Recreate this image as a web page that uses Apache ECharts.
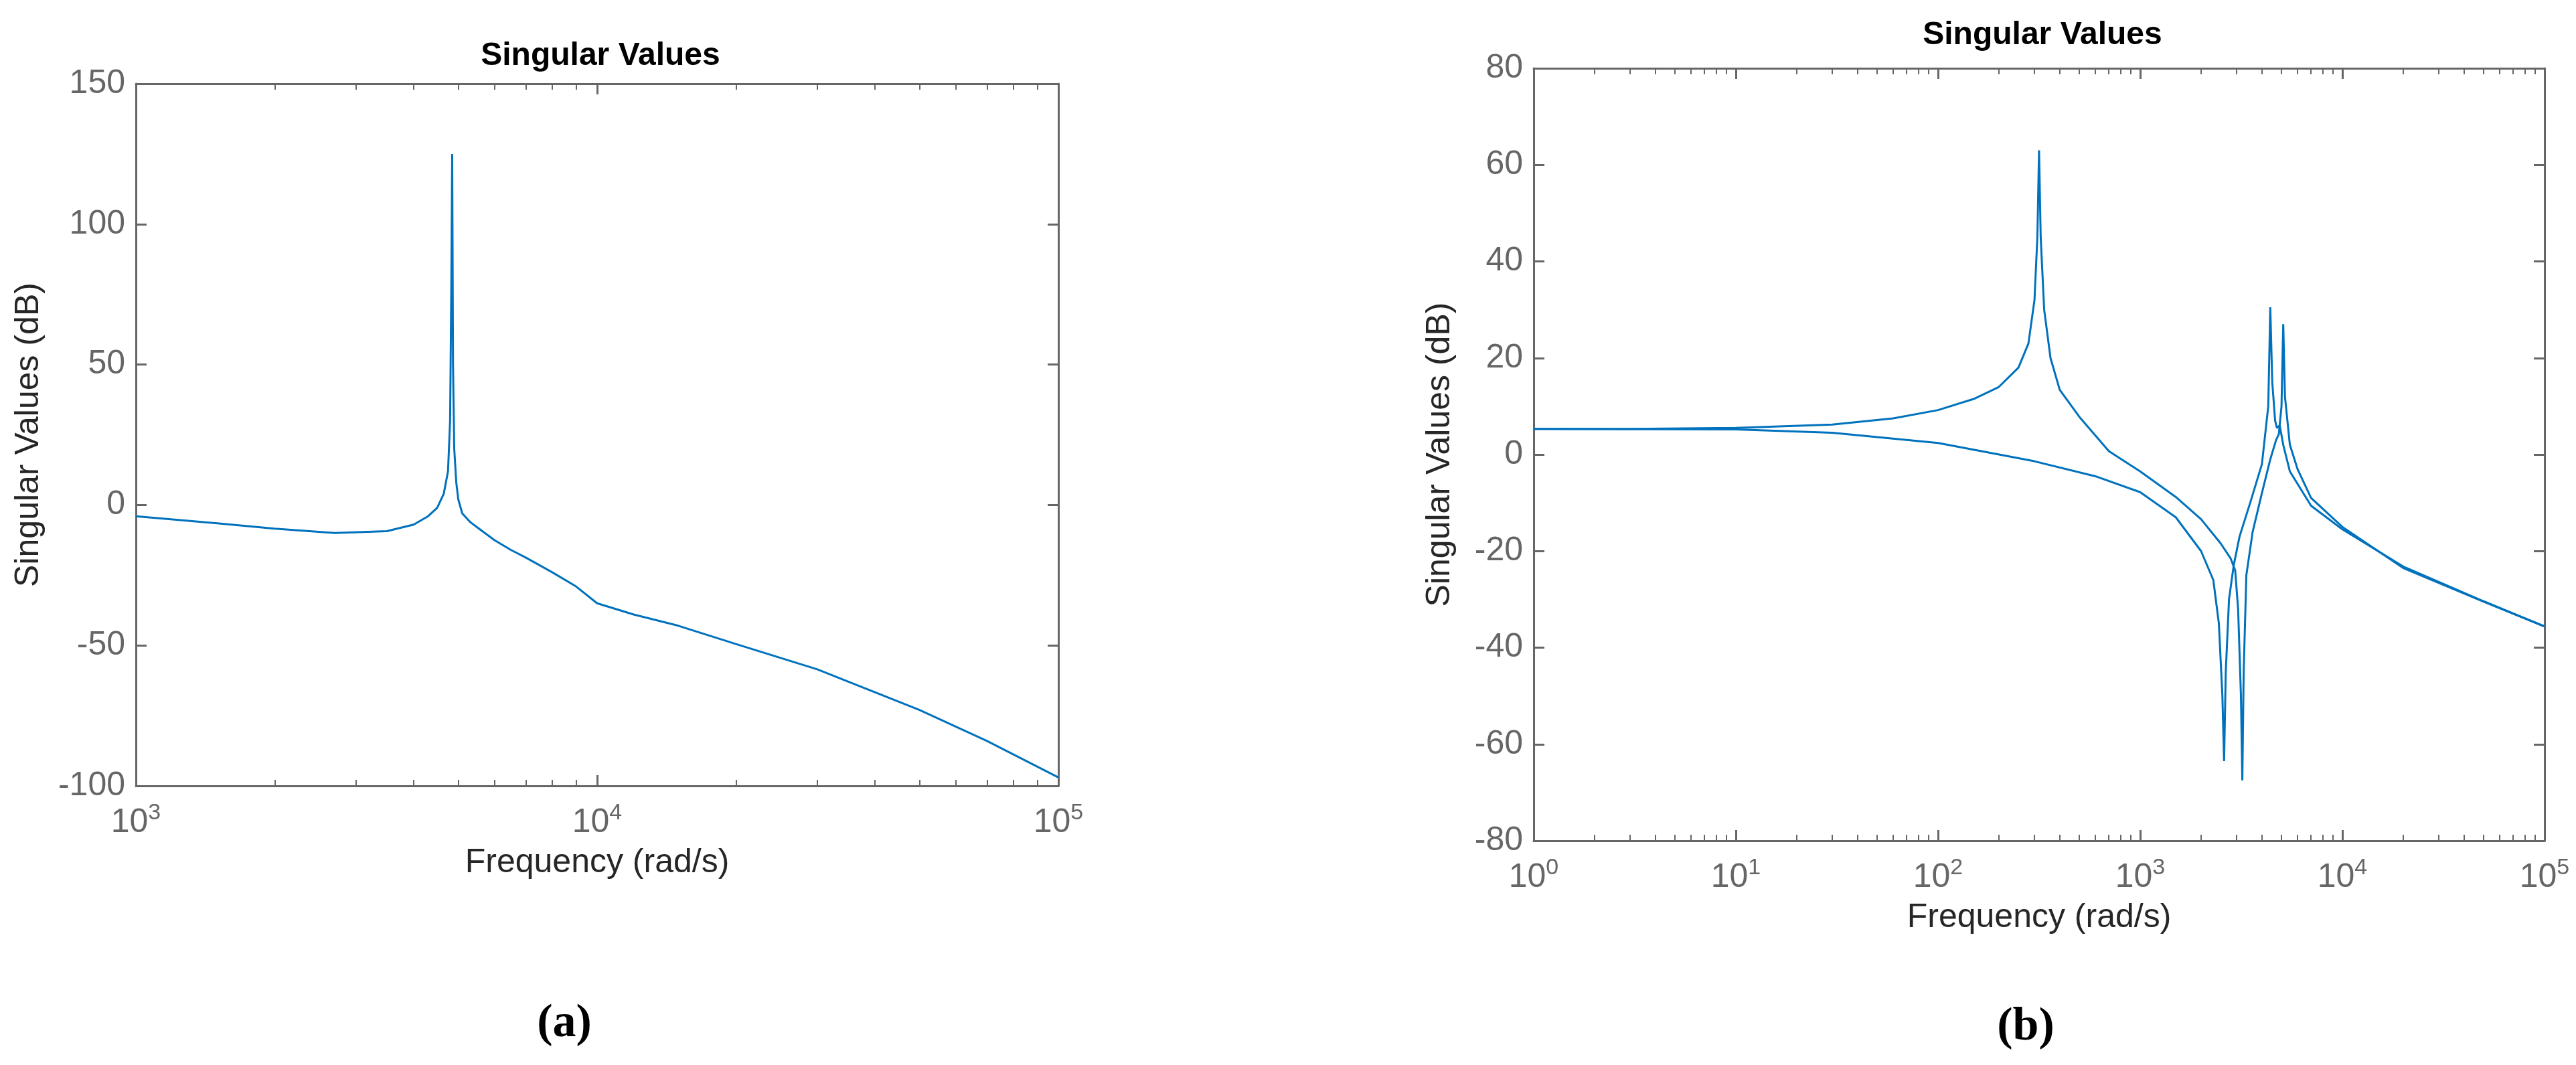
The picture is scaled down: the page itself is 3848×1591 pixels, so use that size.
<!DOCTYPE html>
<html><head><meta charset="utf-8">
<script src="https://cdn.jsdelivr.net/npm/echarts@6/dist/echarts.min.js"></script>
<style>html,body{margin:0;padding:0;background:#fff}#c{width:3848px;height:1591px}</style>
</head><body><div id="c"></div>
<script>
const freqA = [1000,1500,2000,2700,3500,4000,4300,4500,4650,4750,4800,4830,4850,4870,4900,4950,5000,5100,5300,5500,6000,6500,7000,8000,9000,10000,12000,15000,20000,30000,50000,70000,100000];
const svA   = [-4,-6.5,-8.4,-10,-9.3,-7,-4,-1,4,12,30,80,125,50,20,8,2,-3,-6,-8,-12.6,-16,-18.7,-24,-29,-35,-39,-43,-49.5,-58.5,-73,-84,-97];
const freqB1 = [1,3,10,30,60,100,150,200,250,280,300,310,316,322,335,360,400,500,700,1000,1500,2000,2500,2800,2950,3050,3150,3200,3250,3350,3600,4000,4400,4700,4850,5000,5100,5200,5500,6000,7000,10000,20000,50000,100000];
const svB1   = [5.3,5.3,5.5,6.2,7.5,9.2,11.5,14,18,23,32,45,63,45,30,20,13.4,7.8,0.7,-3.5,-8.8,-13.4,-18.4,-21.5,-24,-32,-50,-67.5,-45,-25,-16,-8,-1,3,4.2,10,27,12,2,-3,-9,-15,-23.5,-30.5,-35.6];
const freqB2 = [1,10,30,100,300,600,1000,1500,2000,2300,2450,2550,2600,2650,2750,2900,3100,3500,4000,4300,4400,4500,4650,4750,4900,5100,5500,7000,10000,20000,50000,100000];
const svB2   = [5.3,5.2,4.5,2.4,-1.4,-4.5,-7.8,-13,-20,-26,-35,-50,-63.5,-45,-30,-23,-17,-10,-2,10,30.5,15,7,5.5,6,2,-3.5,-10.6,-15.5,-23.2,-30.4,-35.6];
const titleText = 'Singular Values';
const xName = 'Frequency (rad/s)';
const yName = 'Singular Values (dB)';

const pair = (xs, ys) => xs.map((x, i) => [x, ys[i]]);
const AX = '#666666';
const FONT = 'Arial, "Liberation Sans", sans-serif';
const supFmt = v => '10{s|' + Math.round(Math.log10(v)) + '}';
const xLab = {color: AX, fontSize: 50, fontFamily: FONT, margin: 24, formatter: supFmt,
  rich: {s: {fontSize: 34, color: AX, fontFamily: FONT, verticalAlign: 'top', padding: [0,0,28,0]}}};
function xAxes(gi, min, max) {
  const base = {type: 'log', logBase: 10, min, max, gridIndex: gi,
    axisLine: {show: true, onZero: false, lineStyle: {color: AX, width: 3}},
    axisTick: {inside: true, length: 16, lineStyle: {color: AX, width: 3}},
    minorTick: {show: true, splitNumber: 9, length: 9, lineStyle: {color: AX, width: 2}},
    splitLine: {show: false}};
  return [
    Object.assign({}, base, {position: 'bottom', axisLabel: xLab, name: xName, nameLocation: 'middle', nameGap: 90,
      nameTextStyle: {color: '#262626', fontSize: 50, fontFamily: FONT}}),
    Object.assign({}, base, {position: 'top', axisLabel: {show: false}})
  ];
}
function yAxes(gi, min, max, iv) {
  const base = {type: 'value', min, max, interval: iv, gridIndex: gi,
    axisLine: {show: true, onZero: false, lineStyle: {color: AX, width: 3}},
    axisTick: {show: true, inside: true, length: 16, lineStyle: {color: AX, width: 3}},
    splitLine: {show: false}};
  return [
    Object.assign({}, base, {position: 'left', axisLabel: {color: AX, fontSize: 50, fontFamily: FONT, margin: 16},
      name: yName, nameLocation: 'middle', nameGap: gi === 0 ? 135 : 115,
      nameTextStyle: {color: '#262626', fontSize: 50, fontFamily: FONT}}),
    Object.assign({}, base, {position: 'right', axisLabel: {show: false}})
  ];
}
const lineStyle = {color: '#0072BD', width: 3};
const mk = (xi, yi, data) => ({type: 'line', xAxisIndex: xi, yAxisIndex: yi, data, showSymbol: false,
  lineStyle, smooth: false, animation: false});

const chart = echarts.init(document.getElementById('c'));
chart.setOption({
  backgroundColor: '#fff',
  animation: false,
  title: [
    {text: titleText, left: 892, top: 55, textAlign: 'center', textStyle: {fontSize: 48, fontWeight: 'bold', color: '#000', fontFamily: FONT}},
    {text: titleText, left: 3046, top: 24, textAlign: 'center', textStyle: {fontSize: 48, fontWeight: 'bold', color: '#000', fontFamily: FONT}},
    {text: '({b|a})', left: 838, top: 1490, textAlign: 'center', textStyle: {fontSize: 70, color: '#000', fontFamily: '"Liberation Serif", serif', rich: {b: {fontSize: 70, fontWeight: 'bold', fontFamily: '"Liberation Serif", serif'}}}},
    {text: '({b|b})', left: 3021, top: 1495, textAlign: 'center', textStyle: {fontSize: 70, color: '#000', fontFamily: '"Liberation Serif", serif', rich: {b: {fontSize: 70, fontWeight: 'bold', fontFamily: '"Liberation Serif", serif'}}}}
  ],
  grid: [
    {left: 203, top: 125, width: 1378, height: 1049},
    {left: 2291, top: 102, width: 1510, height: 1154}
  ],
  xAxis: [...xAxes(0, 1000, 100000), ...xAxes(1, 1, 100000)],
  yAxis: [...yAxes(0, -100, 150, 50), ...yAxes(1, -80, 80, 20)],
  series: [
    mk(0, 0, pair(freqA, svA)),
    mk(2, 2, pair(freqB1, svB1)),
    mk(2, 2, pair(freqB2, svB2))
  ]
});
</script></body></html>
